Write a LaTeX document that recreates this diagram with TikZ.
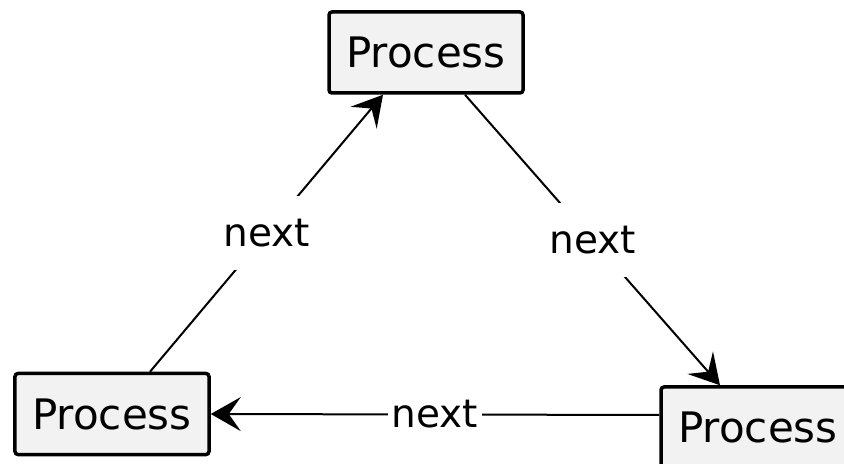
\documentclass[tikz,border=0pt]{standalone}
\usepackage{fontspec}
\setmainfont{DejaVu Sans}
\usetikzlibrary{arrows.meta}
\begin{document}
\begin{tikzpicture}[x=1bp,y=-1bp,
  proc/.style={draw,line width=3.5bp,rounded corners=3bp,fill=black!5,minimum width=194bp,minimum height=81bp,font=\fontsize{42bp}{43bp}\selectfont},
  lbl/.style={fill=white,inner xsep=4bp,inner ysep=0pt,minimum height=74bp,font=\fontsize{39bp}{40bp}\selectfont},
  link/.style={line width=2bp,-{Stealth[length=30bp,width=34bp,inset=12bp]}}]
\useasboundingbox(0,0)rectangle(844,464);
\clip(0,0)rectangle(844,464);
\node[proc](top)at(426,52.5){Process};
\node[proc](left)at(112,414){Process};
\node[proc](right)at(758,427.5){Process};
\draw[link]([xshift=38bp]left.north)--node[lbl]{next}([xshift=-43bp]top.south);
\draw[link]([xshift=39bp]top.south)--node[lbl]{next}([xshift=-38bp]right.north);
\draw[link]([yshift=12.5bp]right.west)--node[lbl]{next}(left.east);
\end{tikzpicture}
\end{document}
